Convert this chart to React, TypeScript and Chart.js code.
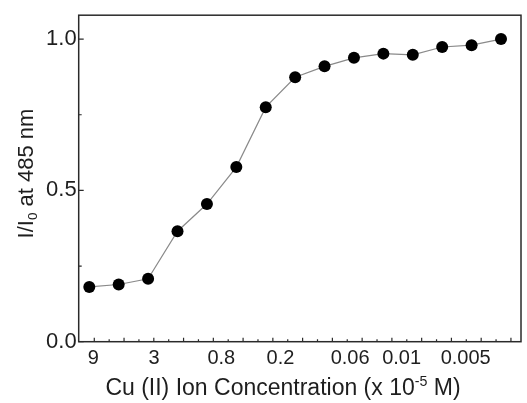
import { useEffect, useRef } from "react";
import { Chart, registerables } from "chart.js";

Chart.register(...registerables);

// ---- data ----
const pointIndex = [0, 1, 2, 3, 4, 5, 6, 7, 8, 9, 10, 11, 12, 13, 14];
const intensityRatio = [
  0.181, 0.189, 0.208, 0.365, 0.455, 0.577, 0.775, 0.874, 0.91, 0.938, 0.952,
  0.948, 0.974, 0.98, 1.0,
];
const xTickLabels = ["9", "3", "0.8", "0.2", "0.06", "0.01", "0.005"];
const xTickPositions = [0.14, 2.2, 4.49, 6.5, 8.87, 10.62, 12.8];
const yTickValues = [0, 0.5, 1.0];
const yMinorTickValues = [0.25, 0.75];
const xMinorTickStart = 0.17;
const xMinorTickStep = 0.506;
const xMinorTickCount = 29;

const xTitleParts = [
  { text: "Cu (II) Ion Concentration (x 10", script: "" },
  { text: "-5", script: "sup" },
  { text: " M)", script: "" },
];
const yTitleParts = [
  { text: "I/I", script: "" },
  { text: "0", script: "sub" },
  { text: " at 485 nm", script: "" },
];

const FONT = "'Liberation Sans', Arial, Helvetica, sans-serif";
const INK = "#1e1e1e";

function drawRich(
  ctx: CanvasRenderingContext2D,
  parts: { text: string; script: string }[],
  size: number,
  x: number,
  y: number,
  rotated: boolean
) {
  const fonts = parts.map((p) => `${p.script ? size * 0.62 : size}px ${FONT}`);
  const widths = parts.map((p, i) => {
    ctx.font = fonts[i];
    return ctx.measureText(p.text).width;
  });
  const total = widths.reduce((a, b) => a + b, 0);
  ctx.save();
  ctx.translate(x, y);
  if (rotated) ctx.rotate(-Math.PI / 2);
  ctx.fillStyle = INK;
  ctx.textAlign = "left";
  ctx.textBaseline = "alphabetic";
  let cx = -total / 2;
  parts.forEach((p, i) => {
    ctx.font = fonts[i];
    const dy = p.script === "sup" ? -size * 0.4 : p.script === "sub" ? size * 0.2 : 0;
    ctx.fillText(p.text, cx, dy);
    cx += widths[i];
  });
  ctx.restore();
}

const framePlugin = {
  id: "frameAndTitles",
  afterDraw(chart: any) {
    const { ctx, chartArea: a, scales } = chart;
    ctx.save();
    ctx.strokeStyle = "#2a2a2a";
    ctx.lineWidth = 1.5;
    ctx.strokeRect(a.left, a.top, a.right - a.left, a.bottom - a.top);
    ctx.lineWidth = 1.2;
    ctx.beginPath();
    yTickValues.forEach((v) => {
      const y = scales.y.getPixelForValue(v);
      ctx.moveTo(a.left, y);
      ctx.lineTo(a.left + 5, y);
    });
    yMinorTickValues.forEach((v) => {
      const y = scales.y.getPixelForValue(v);
      ctx.moveTo(a.left, y);
      ctx.lineTo(a.left + 3, y);
    });
    for (let k = 0; k < xMinorTickCount; k++) {
      const x = scales.x.getPixelForValue(xMinorTickStart + k * xMinorTickStep);
      ctx.moveTo(x, a.bottom);
      ctx.lineTo(x, a.bottom - (k % 2 === 0 ? 4 : 2.5));
    }
    ctx.stroke();
    ctx.restore();

    drawRich(ctx, xTitleParts, 23, 283, 395, false);
    drawRich(ctx, yTitleParts, 22, 33, 173.5, true);
  },
};

export default function App() {
  const ref = useRef<HTMLCanvasElement | null>(null);

  useEffect(() => {
    if (!ref.current) return;
    const chart = new Chart(ref.current, {
      type: "line",
      data: {
        datasets: [
          {
            data: pointIndex.map((x, i) => ({ x, y: intensityRatio[i] })),
            borderColor: "#8a8a8a",
            borderWidth: 1.2,
            pointBackgroundColor: "#000",
            pointBorderColor: "#000",
            pointRadius: 6,
            pointBorderWidth: 0,
            tension: 0,
            fill: false,
          },
        ],
      },
      options: {
        animation: false,
        responsive: false,
        devicePixelRatio: 1,
        layout: { padding: { top: 12.7, right: 5.3, left: 0, bottom: 0 } },
        plugins: { legend: { display: false }, tooltip: { enabled: false } },
        scales: {
          x: {
            type: "linear",
            min: -0.36,
            max: 14.68,
            grid: { display: false, drawTicks: false },
            border: { display: false },
            afterBuildTicks: (s: any) => {
              s.ticks = xTickPositions.map((v) => ({ value: v }));
            },
            afterFit: (s: any) => {
              s.height = 61.3;
            },
            ticks: {
              autoSkip: false,
              maxRotation: 0,
              padding: 5,
              color: INK,
              font: { family: FONT, size: 20 },
              callback: (_v: any, i: number) => xTickLabels[i],
            },
          },
          y: {
            type: "linear",
            min: 0,
            max: 1.079,
            grid: { display: false, drawTicks: false },
            border: { display: false },
            afterBuildTicks: (s: any) => {
              s.ticks = yTickValues.map((v) => ({ value: v }));
            },
            afterFit: (s: any) => {
              s.width = 78.7;
            },
            ticks: {
              padding: 2,
              color: INK,
              font: { family: FONT, size: 22 },
              callback: (v: any) => Number(v).toFixed(1),
            },
          },
        },
      },
      plugins: [framePlugin],
    });
    return () => chart.destroy();
  }, []);

  return (
    <div style={{ position: "absolute", left: 0, top: 0, width: 527, height: 403, background: "#fff" }}>
      <canvas ref={ref} width={527} height={403} style={{ display: "block" }} />
    </div>
  );
}
